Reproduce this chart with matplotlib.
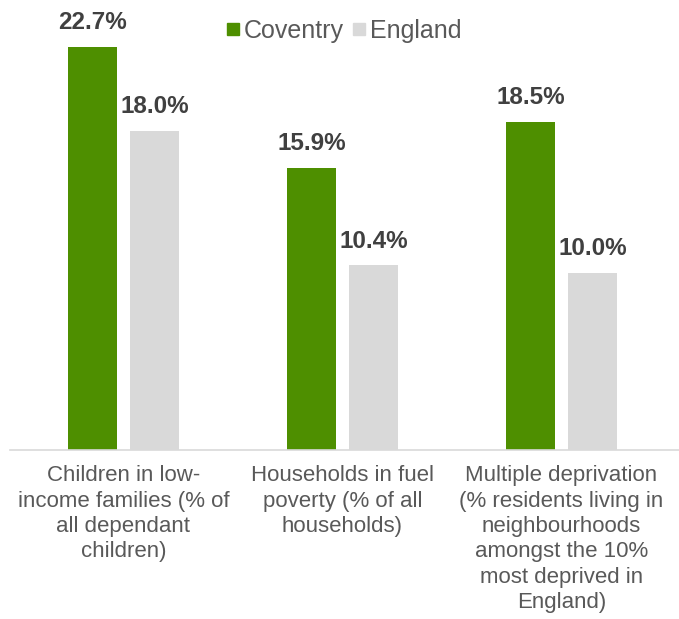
import matplotlib.pyplot as plt
from matplotlib.lines import Line2D
import numpy as np

plt.rcParams['font.family'] = ['Liberation Sans', 'DejaVu Sans']

categories = ["Children in low-\nincome families (% of\nall dependant\nchildren)",
              "Households in fuel\npoverty (% of all\nhouseholds)",
              "Multiple deprivation\n(% residents living in\nneighbourhoods\namongst the 10%\nmost deprived in\nEngland)"]
coventry = [22.7, 15.9, 18.5]
england = [18.0, 10.4, 10.0]

green = "#4E8F00"
grey = "#D9D9D9"
txt = "#404040"

fig = plt.figure(figsize=(6.79, 6.19), dpi=100)
ax = fig.add_axes([10/679, 169/619, 669/679, 443.75/619])

x = np.arange(len(categories))
w = 0.224
off = 0.1416
ax.bar(x - off, coventry, w, color=green)
ax.bar(x + off, england, w, color=grey)

for xs, vals in ((x - off, coventry), (x + off, england)):
    for xi, v in zip(xs, vals):
        ax.text(xi, v + 1.0, f"{v:.1f}%", ha="center", va="baseline",
                fontsize=17.5, fontweight="bold", color=txt)

ax.set_xlim(-0.518, 2.537)
ax.set_ylim(0, 25)
ax.set_yticks([])
ax.set_xticks(x)
ax.set_xticklabels(categories, fontsize=16, color="#595959", linespacing=1.27)
ax.tick_params(axis="x", length=0, pad=11)
for s in ["top", "right", "left"]:
    ax.spines[s].set_visible(False)
ax.spines["bottom"].set_color(grey)
ax.spines["bottom"].set_linewidth(1.2)

handles = [Line2D([], [], marker="s", color=green, linestyle="", markersize=9),
           Line2D([], [], marker="s", color=grey, linestyle="", markersize=9)]
fig.legend(handles, ["Coventry", "England"], loc="center", bbox_to_anchor=(343/679, 1 - 31/619),
           ncol=2, frameon=False, fontsize=18, handletextpad=0.1, columnspacing=0.25,
           labelcolor="#595959", handlelength=0.7)

fig.savefig("out.png", dpi=100)
